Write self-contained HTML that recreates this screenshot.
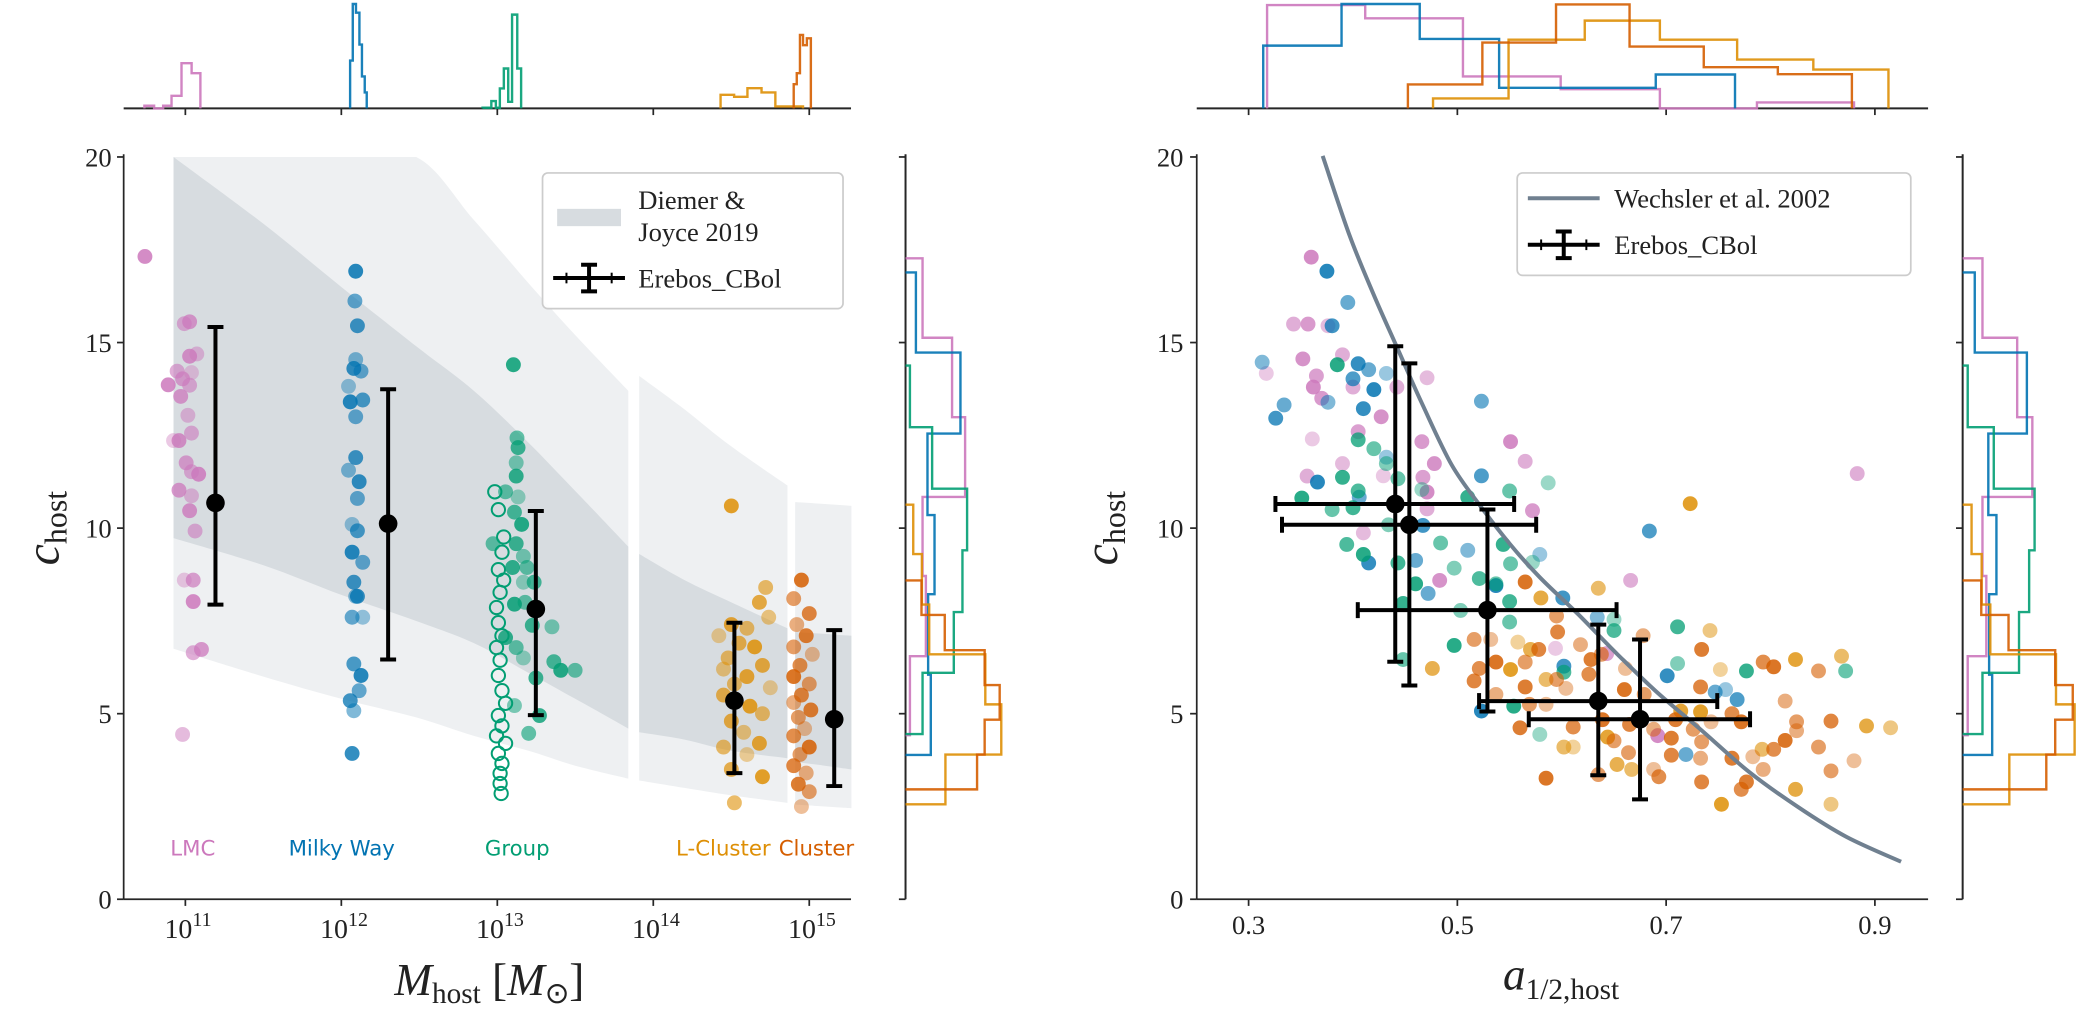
<!DOCTYPE html>
<html><head><meta charset="utf-8"><title>Concentration vs host mass and formation time</title>
<style>html,body{margin:0;padding:0;background:#fff;}svg{display:block;}text{font-family:"Liberation Serif",serif;fill:#222;}.sans{font-family:"DejaVu Sans","Liberation Sans",sans-serif;}</style></head>
<body>
<svg id="fig" xmlns="http://www.w3.org/2000/svg" width="2081" height="1011" viewBox="0 0 1565 760" preserveAspectRatio="none">
<g id="bands"></g>
<g id="lpts"></g>
<g id="rpts"></g>
<g id="axes"></g>
<g id="hists"></g>
<g id="errs"></g>
<g id="legend-left">
 <rect x="408" y="130" width="226" height="102" rx="4" fill="#fff" fill-opacity="0.85" stroke="#ccc" stroke-width="1.3"/>
 <rect x="419" y="157" width="48" height="13" fill="#d7dce0"/>
 <text x="480" y="157" font-size="20">Diemer &amp;</text>
 <text x="480" y="181" font-size="20">Joyce 2019</text>
 <g stroke="#000" stroke-width="3"><line x1="416" y1="209" x2="470" y2="209"/><line x1="443" y1="199" x2="443" y2="219"/><line x1="437" y1="199" x2="449" y2="199"/><line x1="437" y1="219" x2="449" y2="219"/><line x1="426" y1="205" x2="426" y2="213" stroke-width="1.5"/><line x1="460" y1="205" x2="460" y2="213" stroke-width="1.5"/></g>
 <text x="480" y="216" font-size="20">Erebos_CBol</text>
</g>
<g id="legend-right">
 <rect x="1141" y="130" width="296" height="77" rx="4" fill="#fff" fill-opacity="0.85" stroke="#ccc" stroke-width="1.3"/>
 <line x1="1149" y1="149" x2="1203" y2="149" stroke="#708090" stroke-width="3"/>
 <text x="1214" y="156" font-size="20">Wechsler et al. 2002</text>
 <g stroke="#000" stroke-width="3"><line x1="1149" y1="184" x2="1203" y2="184"/><line x1="1176" y1="174" x2="1176" y2="194"/><line x1="1170" y1="174" x2="1182" y2="174"/><line x1="1170" y1="194" x2="1182" y2="194"/><line x1="1159" y1="180" x2="1159" y2="188" stroke-width="1.5"/><line x1="1193" y1="180" x2="1193" y2="188" stroke-width="1.5"/></g>
 <text x="1214" y="191" font-size="20">Erebos_CBol</text>
</g>
<g class="sans" font-size="16">
 <text class="sans" x="145" y="643" text-anchor="middle" style="fill:#cc78bc">LMC</text>
 <text class="sans" x="257" y="643" text-anchor="middle" style="fill:#0173b2">Milky Way</text>
 <text class="sans" x="389" y="643" text-anchor="middle" style="fill:#029e73">Group</text>
 <text class="sans" x="544" y="643" text-anchor="middle" style="fill:#de8f05">L-Cluster</text>
 <text class="sans" x="614" y="643" text-anchor="middle" style="fill:#d55e00">Cluster</text>
</g>
<text transform="translate(44,397) rotate(-90)" text-anchor="middle" font-size="36"><tspan font-style="italic">c</tspan><tspan font-size="24" dy="6">host</tspan></text>
<text transform="translate(840,397) rotate(-90)" text-anchor="middle" font-size="36"><tspan font-style="italic">c</tspan><tspan font-size="24" dy="6">host</tspan></text>
<text x="368" y="748" text-anchor="middle" font-size="34"><tspan font-style="italic">M</tspan><tspan font-size="22" dy="6">host</tspan><tspan dy="-6"> [</tspan><tspan font-style="italic">M</tspan><tspan font-size="22" dy="6">⊙</tspan><tspan dy="-6">]</tspan></text>
<text x="1174" y="744" text-anchor="middle" font-size="34"><tspan font-style="italic">a</tspan><tspan font-size="22" dy="7">1/2,host</tspan></text>
</svg>
<script>
// ---------- data ----------
const groupNames = ["LMC","Milky Way","Group","L-Cluster","Cluster"];
const groupColors = ["#cc78bc","#0173b2","#029e73","#de8f05","#d55e00"];
const lmcLogM = [10.741,10.993,11.027,11.073,11.027,10.947,11.039,10.982,10.89,11.027,10.97,11.016,10.959,11.039,10.924,11.005,11.085,11.039,10.959,11.039,11.027,11.062,10.993,11.05,11.05,11.05,11.103,10.982];
const lmcC    = [17.32,15.51,15.56,14.69,14.63,14.23,14.19,14.02,13.86,13.85,13.55,13.04,12.36,12.56,12.36,11.76,11.45,11.52,11.02,10.87,10.47,9.92,8.6,8.6,8.02,6.64,6.73,4.44];
const mwLogM = [12.092,12.087,12.103,12.092,12.08,12.126,12.046,12.137,12.057,12.092,12.092,12.046,12.114,12.103,12.069,12.103,12.069,12.137,12.08,12.092,12.103,12.069,12.137,12.08,12.126,12.114,12.057,12.08,12.069];
const mwC    = [16.92,16.12,15.45,14.54,14.3,14.23,13.82,13.45,13.4,13.0,11.9,11.56,11.25,10.8,10.1,9.93,9.35,9.08,8.54,8.16,8.16,7.6,7.6,6.34,6.03,5.62,5.35,5.08,3.93];
const grpLogM = [13.103,13.126,13.133,13.121,13.121,13.053,13.133,13.11,13.156,12.973,13.121,13.167,13.098,13.19,13.167,13.236,13.11,13.178,13.224,13.35,13.053,13.121,13.167,13.362,13.407,13.499,13.247,13.11,13.27,13.201];
const grpC    = [14.4,12.43,12.17,11.76,11.4,10.98,10.84,10.43,10.1,9.58,9.58,9.24,8.94,8.94,8.54,8.54,7.95,8.0,7.38,7.34,7.05,6.78,6.5,6.4,6.17,6.17,5.96,5.22,4.95,4.47];
const grpOpenLogM = [12.984,13.007,13.041,13.03,13.007,13.041,13.018,12.995,13.007,13.03,12.995,13.018,13.007,13.03,13.053,13.007,13.03,12.995,13.053,13.007,13.03,13.018,13.018,13.025];
const grpOpenC    = [10.98,10.5,9.76,9.35,8.88,8.6,8.27,7.86,7.45,7.1,6.78,6.44,6.03,5.62,5.28,4.95,4.67,4.4,4.2,3.93,3.66,3.39,3.12,2.85];
const lclLogM = [14.5,14.72,14.68,14.74,14.5,14.6,14.42,14.55,14.65,14.48,14.7,14.45,14.6,14.52,14.75,14.45,14.62,14.7,14.5,14.58,14.68,14.45,14.6,14.5,14.7,14.52];
const lclC    = [10.6,8.4,8.0,7.6,7.4,7.3,7.1,6.9,6.8,6.5,6.3,6.2,6.0,5.8,5.7,5.5,5.2,5.0,4.8,4.5,4.2,4.1,3.9,3.5,3.3,2.6];
const clLogM = [14.95,14.9,15.0,14.92,14.98,14.9,15.02,14.94,14.9,15.0,14.95,14.9,15.01,14.93,14.97,14.9,15.0,14.94,14.9,14.98,14.93,15.0,14.95];
const clC    = [8.6,8.1,7.7,7.4,7.1,6.8,6.6,6.3,6.0,5.8,5.5,5.3,5.1,4.9,4.6,4.4,4.1,3.9,3.6,3.4,3.1,2.9,2.5];
const errLogM = [11.193,12.30,13.247,14.52,15.16];
const errCMid = [10.68,10.12,7.82,5.35,4.85];
const errCLo  = [7.94,6.46,4.96,3.4,3.05];
const errCHi  = [15.42,13.74,10.46,7.45,7.25];
const rErrA   = [0.4405,0.454,0.5288,0.635,0.675];
const rErrALo = [0.3257,0.332,0.4046,0.5208,0.5684];
const rErrAHi = [0.5544,0.5755,0.6525,0.749,0.7804];
const rErrC   = [10.65,10.09,7.79,5.34,4.85];
const rErrCLo = [6.4,5.76,5.06,3.34,2.69];
const rErrCHi = [14.9,14.44,10.5,7.4,7.0];
const rLmcA = [0.36,0.343,0.357,0.376,0.352,0.39,0.317,0.365,0.362,0.4,0.37,0.471,0.427,0.442,0.361,0.405,0.551,0.565,0.466,0.39,0.478,0.356,0.429,0.467,0.471,0.471,0.572,0.41,0.483,0.666,0.594,0.643,0.692,0.883];
const rLmcC = [17.3,15.5,15.5,15.45,14.56,14.67,14.17,14.1,13.8,13.8,13.5,14.05,13.0,13.8,12.4,12.6,12.33,11.8,12.33,11.74,11.74,11.4,11.41,11.37,10.97,10.52,10.47,9.87,8.59,8.59,6.76,6.62,4.41,11.47];
const rMwA = [0.375,0.395,0.38,0.313,0.405,0.415,0.432,0.4,0.42,0.334,0.326,0.376,0.41,0.523,0.432,0.523,0.366,0.406,0.467,0.51,0.415,0.46,0.579,0.684,0.537,0.472,0.601,0.634,0.701,0.747,0.757,0.768,0.523,0.719,0.602];
const rMwC = [16.92,16.08,15.45,14.47,14.43,14.27,14.17,14.02,13.73,13.32,12.96,13.39,13.22,13.42,11.91,11.41,11.24,10.83,10.07,9.4,9.06,9.13,9.29,9.92,8.45,8.24,8.12,7.6,6.02,5.58,5.65,5.38,5.07,3.9,6.28];
const rGrpA = [0.385,0.42,0.405,0.432,0.39,0.443,0.466,0.405,0.351,0.38,0.4,0.434,0.51,0.55,0.587,0.394,0.41,0.484,0.443,0.497,0.544,0.551,0.572,0.521,0.46,0.537,0.55,0.503,0.448,0.55,0.65,0.65,0.497,0.448,0.711,0.711,0.777,0.872,0.579,0.602,0.554];
const rGrpC = [14.4,12.14,12.38,11.74,11.37,11.33,11.04,11.0,10.81,10.5,10.55,10.09,10.83,11.0,11.22,9.56,9.29,9.6,9.06,8.92,9.56,9.04,9.08,8.64,8.5,8.5,8.02,7.78,7.97,7.47,7.54,7.24,6.84,6.46,7.34,6.35,6.15,6.15,4.44,6.12,5.2];
const rLclA = [0.723,0.635,0.58,0.742,0.824,0.868,0.752,0.476,0.551,0.585,0.892,0.915,0.714,0.602,0.611,0.653,0.753,0.792,0.824,0.858,0.644,0.667,0.558,0.57,0.733];
const rLclC = [10.66,8.38,8.12,7.24,6.46,6.55,6.19,6.22,6.19,5.92,4.67,4.62,5.07,4.1,4.1,3.63,2.56,4.04,2.96,2.56,4.37,3.5,6.93,6.73,5.05];
const rClA = [0.565,0.595,0.596,0.678,0.734,0.516,0.532,0.521,0.537,0.565,0.578,0.618,0.628,0.638,0.661,0.793,0.803,0.846,0.516,0.537,0.565,0.595,0.604,0.626,0.66,0.679,0.733,0.814,0.56,0.569,0.585,0.611,0.639,0.65,0.665,0.688,0.709,0.726,0.743,0.763,0.772,0.825,0.858,0.825,0.705,0.734,0.783,0.803,0.814,0.846,0.705,0.733,0.763,0.664,0.688,0.693,0.585,0.635,0.734,0.793,0.777,0.858,0.88,0.772];
const rClC = [8.55,7.63,7.2,7.1,6.73,7.0,7.0,6.22,6.39,6.39,6.73,6.86,6.46,6.6,6.22,6.39,6.26,6.15,5.88,5.52,5.72,5.92,5.68,6.06,5.65,5.52,5.72,5.34,4.62,5.25,5.25,4.64,4.84,4.27,4.71,4.58,4.84,4.58,4.78,5.0,4.78,4.78,4.8,4.54,4.34,4.24,3.84,4.04,4.28,4.1,3.88,3.8,3.8,3.95,3.5,3.3,3.26,3.36,3.16,3.5,3.16,3.46,3.73,2.96];
const bandSeg = [[10.924,11.5,12.0,12.48,12.85,13.2,13.5,13.84],[13.91,14.2,14.5,14.86],[14.91,15.1,15.27]];
const bandOuterHi = [[20,20,20,20,18.3,16.6,15.2,13.7],[14.1,13.2,12.2,11.15],[10.7,10.65,10.6]];
const bandOuterLo = [[6.75,6.0,5.4,4.9,4.4,4.0,3.6,3.25],[3.2,3.0,2.8,2.6],[2.55,2.5,2.45]];
const bandInnerHi = [[20,18.2,16.5,14.9,13.7,12.3,11.0,9.5],[9.3,8.6,8.0,7.3],[7.2,7.15,7.1]];
const bandInnerLo = [[9.73,9.0,8.2,7.5,6.9,6.1,5.4,4.6],[4.5,4.3,4.0,3.8],[3.7,3.6,3.5]];
const curveA = [0.371,0.3966,0.42,0.4433,0.4667,0.4947,0.5227,0.5507,0.5787,0.616,0.6534,0.6907,0.7328,0.7795,0.8261,0.8728,0.9251];
const curveC = [20.03,17.9,16.28,14.8,13.32,11.7,10.57,9.56,8.68,7.67,6.6,5.59,4.58,3.43,2.49,1.68,1.01];
const hTopLEdges = [[10.737,10.8,10.858,10.911,10.975,11.04,11.096],[12.056,12.073,12.094,12.116,12.132,12.15,12.163],[12.905,12.962,12.991,13.016,13.042,13.07,13.095,13.128,13.153],[14.431,14.518,14.604,14.694,14.783,14.87,14.96],[14.90,14.92,14.94,14.96,14.985,15.01]];
const hTopLVals = [[8,0,8,38,136,106],[144,314,288,192,96,48],[2,22,2,60,120,20,282,120],[41,35,61,48,6,6],[73,106,221,190,211]];
const hTopREdges = [[0.3177,0.4117,0.5053,0.599,0.694,0.787,0.88],[0.314,0.389,0.464,0.54,0.615,0.69,0.766],[],[0.4767,0.549,0.622,0.694,0.768,0.841,0.913],[0.4526,0.524,0.5945,0.665,0.736,0.807,0.878]];
const hTopRVals = [[311,271,96,58,0,18],[189,314,209,62,62,102],[],[30,207,264,207,147,117],[72,198,313,186,124,103]];
const hCEdges = [[17.27,15.13,12.99,10.84,8.71,6.55,4.42],[16.89,14.73,12.55,10.35,8.22,6.05,3.89],[14.38,12.72,11.06,9.4,7.74,6.1,4.45],[10.63,9.3,7.94,6.6,5.25,3.9,2.56],[8.59,7.66,6.71,5.77,4.84,3.9,2.96]];
const hCVals = [[51,140,179,51,61,13],[31,165,66,87,68,76],[13,80,185,171,145,51],[23,49,71,240,288,120],[48,118,238,283,238,215]];
const yTicks = [0,5,10,15,20];
const xTicksLogM = [11,12,13,14,15];
const xTicksA = [0.3,0.5,0.7,0.9];

// ---------- scales ----------
const NS = "http://www.w3.org/2000/svg";
const xL = m => 139.4 + 117.3*(m-11);
const yC = c => 676 - 27.9*c;
const xR = a => 939 + 785*(a-0.3);
const topBase = 81.5;
const hTop = v => v*0.25;
const margL = 681, margR = 1476;
const wMarg = v => v*0.25;
function el(tag, attrs, parent){const e=document.createElementNS(NS,tag);for(const k in attrs)e.setAttribute(k,attrs[k]);parent.appendChild(e);return e;}
const clamp=(v,a,b)=>Math.min(Math.max(v,Math.min(a,b)),Math.max(a,b));
// Catmull-Rom smoothing with control points clamped (no overshoot)
function smooth(pts, start){
  let d = (start?'M':'L')+pts[0][0].toFixed(1)+','+pts[0][1].toFixed(1);
  for(let i=0;i<pts.length-1;i++){
    const p0=pts[Math.max(i-1,0)],p1=pts[i],p2=pts[i+1],p3=pts[Math.min(i+2,pts.length-1)];
    const c1=[p1[0]+(p2[0]-p0[0])/6,clamp(p1[1]+(p2[1]-p0[1])/6,p1[1],p2[1])];
    const c2=[p2[0]-(p3[0]-p1[0])/6,clamp(p2[1]-(p3[1]-p1[1])/6,p1[1],p2[1])];
    d+='C'+c1[0].toFixed(1)+','+c1[1].toFixed(1)+' '+c2[0].toFixed(1)+','+c2[1].toFixed(1)+' '+p2[0].toFixed(1)+','+p2[1].toFixed(1);
  }
  return d;
}

// ---------- bands ----------
const gB = document.getElementById('bands');
function bandPath(xs, hi, lo){
  const top = xs.map((m,i)=>[xL(m),yC(hi[i])]);
  const bot = xs.map((m,i)=>[xL(m),yC(lo[i])]).reverse();
  return smooth(top,true)+smooth(bot,false)+'Z';
}
bandSeg.forEach((xs,s)=>{
  const o = el('path',{d:bandPath(xs,bandOuterHi[s],bandOuterLo[s]),fill:'#eef0f2'},gB);
  
  
  const n = el('path',{d:bandPath(xs,bandInnerHi[s],bandInnerLo[s]),fill:'#d7dce0'},gB);
  
  
});

// ---------- scatter ----------
const alphas=[0.85,0.6,0.75,0.5,0.8,0.6,0.4,0.7];
function scatter(g, xs, ys, xf, color, name, open){
  xs.forEach((x,i)=>{
    const c = el('circle',{cx:xf(x).toFixed(1),cy:yC(ys[i]).toFixed(1),r:open?5:5.6},g);
    if(open){c.setAttribute('fill','none');c.setAttribute('stroke',color);c.setAttribute('stroke-width','1.5');}
    else{c.setAttribute('fill',color);c.setAttribute('fill-opacity',alphas[i%alphas.length]);}
    
    
  });
}
const gL = document.getElementById('lpts');
scatter(gL,lmcLogM,lmcC,xL,groupColors[0],'lmc');
scatter(gL,mwLogM,mwC,xL,groupColors[1],'milky-way');
scatter(gL,grpOpenLogM,grpOpenC,xL,groupColors[2],'group-open',true);
scatter(gL,grpLogM,grpC,xL,groupColors[2],'group');
scatter(gL,lclLogM,lclC,xL,groupColors[3],'l-cluster');
scatter(gL,clLogM,clC,xL,groupColors[4],'cluster');
const gR = document.getElementById('rpts');
scatter(gR,rLmcA,rLmcC,xR,groupColors[0],'lmc-right');
scatter(gR,rMwA,rMwC,xR,groupColors[1],'milky-way-right');
scatter(gR,rGrpA,rGrpC,xR,groupColors[2],'group-right');
scatter(gR,rLclA,rLclC,xR,groupColors[3],'l-cluster-right');
scatter(gR,rClA,rClC,xR,groupColors[4],'cluster-right');

const cv = el('path',{d:smooth(curveA.map((a,i)=>[xR(a),yC(curveC[i])]),true),fill:'none',stroke:'#708090','stroke-width':3},gR);



// ---------- axes ----------
const gA = document.getElementById('axes');
function line(g,x1,y1,x2,y2,w,name){const l=el('line',{x1,y1,x2,y2,stroke:'#262626','stroke-width':w||1.3},g);return l;}
function txt(g,x,y,s,anchor,size,name){const t=el('text',{x,y,'text-anchor':anchor,'font-size':size},g);t.textContent=s;return t;}
line(gA,93,116,93,676,1.3,'left-y-spine');
line(gA,93,676,640,676,1.3,'left-x-spine');
yTicks.forEach(v=>{line(gA,88,yC(v),93,yC(v),1.3,'y-tick');txt(gA,84,yC(v)+7,String(v),'end',20,'y-tick-label');});
xTicksLogM.forEach(m=>{const x=xL(m);line(gA,x,676,x,681,1.3,'x-tick');
  const t=txt(gA,x+2,705,'','middle',21,'x-tick-label');
  const a=document.createElementNS(NS,'tspan');a.textContent='10';t.appendChild(a);
  const b=document.createElementNS(NS,'tspan');b.setAttribute('dy','-9');b.setAttribute('font-size','15');b.textContent=String(m);t.appendChild(b);
});
line(gA,900,116,900,676,1.3,'right-y-spine');
line(gA,900,676,1450,676,1.3,'right-x-spine');
yTicks.forEach(v=>{line(gA,895,yC(v),900,yC(v),1.3,'y-tick-right');txt(gA,890,yC(v)+7,String(v),'end',20,'y-tick-label-right');});
xTicksA.forEach(a=>{const x=xR(a);line(gA,x,676,x,681,1.3,'x-tick-right');txt(gA,x,702,a.toFixed(1),'middle',20,'x-tick-label-right');});
line(gA,93,topBase,640,topBase,1.5,'top-left-hist-baseline');
xTicksLogM.forEach(m=>line(gA,xL(m),topBase,xL(m),topBase+5,1.3,'top-left-tick'));
line(gA,900,topBase,1450,topBase,1.5,'top-right-hist-baseline');
xTicksA.forEach(a=>line(gA,xR(a),topBase,xR(a),topBase+5,1.3,'top-right-tick'));
[margL,margR].forEach((mx,k)=>{line(gA,mx,116,mx,676,1.5,k?'right-marginal-spine':'left-marginal-spine');
  yTicks.forEach(v=>line(gA,mx-5,yC(v),mx,yC(v),1.3,'marginal-tick'));});

// ---------- histograms ----------
const gH = document.getElementById('hists');
function topHist(edges, vals, xf, color, name){
  if(!edges.length) return;
  let d='M'+xf(edges[0]).toFixed(1)+','+topBase;
  vals.forEach((v,i)=>{const y=(topBase-hTop(v)).toFixed(1);d+='L'+xf(edges[i]).toFixed(1)+','+y+'L'+xf(edges[i+1]).toFixed(1)+','+y;});
  d+='L'+xf(edges[edges.length-1]).toFixed(1)+','+topBase;
  const p=el('path',{d,fill:'none',stroke:color,'stroke-width':1.8,'stroke-opacity':0.9},gH);
  
  
}
function sideHist(edges, vals, x0, scale, color, name){
  let d='M'+x0+','+yC(edges[0]).toFixed(1);
  vals.forEach((v,i)=>{const x=(x0+wMarg(v)*scale).toFixed(1);d+='L'+x+','+yC(edges[i]).toFixed(1)+'L'+x+','+yC(edges[i+1]).toFixed(1);});
  d+='L'+x0+','+yC(edges[edges.length-1]).toFixed(1);
  const p=el('path',{d,fill:'none',stroke:color,'stroke-width':1.8,'stroke-opacity':0.9},gH);
  
  
}
groupColors.forEach((col,g)=>{
  topHist(hTopLEdges[g],hTopLVals[g],xL,col,'top-hist-mass-'+g);
  topHist(hTopREdges[g],hTopRVals[g],xR,col,'top-hist-a-'+g);
  sideHist(hCEdges[g],hCVals[g],margL,1,col,'side-hist-left-'+g);
  sideHist(hCEdges[g],hCVals[g],margR,1.17,col,'side-hist-right-'+g);
});

// ---------- error bars ----------
const gE = document.getElementById('errs');
function vbar(g,x,lo,hi,name){
  const s=el('g',{stroke:'#000','stroke-width':3},g);
  
  
  el('line',{x1:x,y1:yC(lo),x2:x,y2:yC(hi)},s);
  el('line',{x1:x-6,y1:yC(lo),x2:x+6,y2:yC(lo)},s);
  el('line',{x1:x-6,y1:yC(hi),x2:x+6,y2:yC(hi)},s);
  return s;
}
errLogM.forEach((m,i)=>{
  const x=xL(m);
  const s=vbar(gE,x,errCLo[i],errCHi[i],'errorbar-left-'+i);
  el('circle',{cx:x,cy:yC(errCMid[i]),r:7,fill:'#000',stroke:'none'},s);
});
rErrA.forEach((a,i)=>{
  const x=xR(a), y=yC(rErrC[i]);
  const s=vbar(gE,x,rErrCLo[i],rErrCHi[i],'errorbar-right-'+i);
  el('line',{x1:xR(rErrALo[i]),y1:y,x2:xR(rErrAHi[i]),y2:y},s);
  el('line',{x1:xR(rErrALo[i]),y1:y-6,x2:xR(rErrALo[i]),y2:y+6},s);
  el('line',{x1:xR(rErrAHi[i]),y1:y-6,x2:xR(rErrAHi[i]),y2:y+6},s);
  el('circle',{cx:x,cy:y,r:7,fill:'#000',stroke:'none'},s);
});
</script>
</body></html>
